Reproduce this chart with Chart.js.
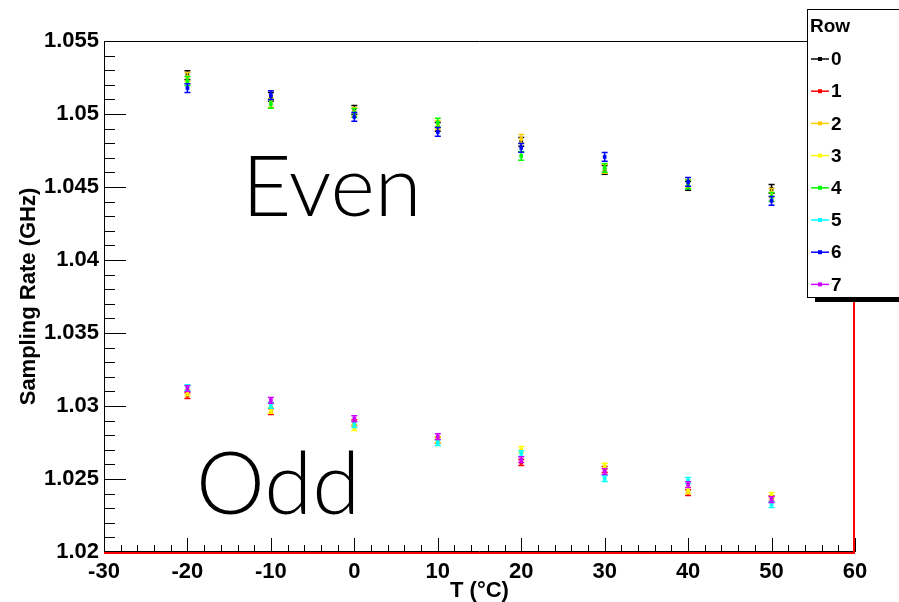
<!DOCTYPE html>
<html>
<head>
<meta charset="utf-8">
<script src="https://cdn.jsdelivr.net/npm/chart.js@4.4.1/dist/chart.umd.min.js"></script>
<style>
  body { margin: 0; background: #fff; }
</style>
</head>
<body>
<canvas id="canvas" width="899" height="602"></canvas>
<script>
// temperatures (x) and the sampling rate per row (y, GHz)
const temps = [-20, -10, 0, 10, 20, 30, 40, 50];
const rowNames = ['0', '1', '2', '3', '4', '5', '6', '7'];
const rowColors = ['#000000', '#ff0000', '#ffcc00', '#ffff00', '#00ff00', '#00ffff', '#0000ff', '#cc00ff'];
const row0 = [1.05267, 1.05117, 1.05028, 1.04912, 1.04809, 1.04617, 1.04507, 1.04487];
const row1 = [1.03071, 1.02961, 1.02886, 1.02766, 1.02613, 1.02565, 1.02407, 1.02366];
const row2 = [1.05254, 1.05076, 1.05014, 1.04925, 1.04829, 1.04624, 1.04521, 1.04460];
const row3 = [1.03091, 1.02970, 1.02852, 1.02770, 1.02702, 1.02588, 1.02421, 1.02387];
const row4 = [1.05226, 1.05069, 1.05007, 1.04941, 1.04713, 1.04631, 1.04518, 1.04433];
const row5 = [1.03125, 1.03004, 1.02872, 1.02749, 1.02674, 1.02503, 1.02490, 1.02325];
const row6 = [1.05178, 1.05130, 1.04980, 1.04877, 1.04768, 1.04706, 1.04535, 1.04405];
const row7 = [1.03119, 1.03039, 1.02913, 1.02790, 1.02633, 1.02551, 1.02462, 1.02359];
const rowErr = [0.0003, 0.0002, 0.0003, 0.0002, 0.0003, 0.0002, 0.0003, 0.0002];
const rows = [row0, row1, row2, row3, row4, row5, row6, row7];

const xMin = -30, xMax = 60, xStep = 10, xMinor = 2;
const yMin = 1.02, yMax = 1.055, yStep = 0.005, yMinor = 0.001;

Chart.defaults.font.family = "'Liberation Sans', Arial, sans-serif";
Chart.defaults.color = '#000';

let datasets = [];
for (let i = 0; i < rows.length; i++) {
    datasets.push({
        label: rowNames[i],
        data: temps.map((t, k) => ({ x: t, y: rows[i][k] })),
        backgroundColor: rowColors[i],
        borderColor: rowColors[i],
        pointStyle: 'rect',
        pointRadius: 2.6,
        pointBorderWidth: 0,
        showLine: false,
        order: rows.length - i
    });
}

// vertical error bars, drawn just before each row's markers
const errorBars = {
    id: 'errorBars',
    beforeDatasetDraw(chart, args) {
        const ctx = chart.ctx;
        const yScale = chart.scales.y;
        const i = args.index;
        const err = rowErr[i];
        ctx.save();
        ctx.strokeStyle = rowColors[i];
        ctx.lineWidth = 1.5;
        args.meta.data.forEach((pt, k) => {
            const v = rows[i][k];
            const y1 = yScale.getPixelForValue(v + err);
            const y2 = yScale.getPixelForValue(v - err);
            ctx.beginPath();
            ctx.moveTo(pt.x, y1); ctx.lineTo(pt.x, y2);
            ctx.moveTo(pt.x - 3, y1); ctx.lineTo(pt.x + 3, y1);
            ctx.moveTo(pt.x - 3, y2); ctx.lineTo(pt.x + 3, y2);
            ctx.stroke();
        });
        ctx.restore();
    }
};

// ROOT-like frame with inner tick marks
const frame = {
    id: 'frame',
    afterDraw(chart) {
        const ctx = chart.ctx;
        const a = chart.chartArea;
        const xs = chart.scales.x, ys = chart.scales.y;
        ctx.save();
        ctx.strokeStyle = '#000';
        ctx.lineWidth = 1;
        ctx.beginPath();
        ctx.moveTo(a.left + 0.5, a.bottom); ctx.lineTo(a.left + 0.5, a.top + 0.5);
        ctx.lineTo(a.right, a.top + 0.5);
        // x ticks
        for (let v = xMin; v <= xMax + 1e-9; v += xMinor) {
            const px = Math.round(xs.getPixelForValue(v)) + 0.5;
            const major = Math.abs(v % xStep) < 1e-9;
            ctx.moveTo(px, a.bottom);
            ctx.lineTo(px, a.bottom - (major ? 14 : 7));
        }
        // y ticks
        for (let n = 0; n <= Math.round((yMax - yMin) / yMinor); n++) {
            const v = yMin + n * yMinor;
            const py = Math.round(ys.getPixelForValue(v)) + 0.5;
            const major = n % Math.round(yStep / yMinor) === 0;
            ctx.moveTo(a.left, py);
            ctx.lineTo(a.left + (major ? 22 : 11), py);
        }
        ctx.stroke();
        ctx.beginPath();
        ctx.moveTo(a.left, a.bottom - 0.5); ctx.lineTo(a.right, a.bottom - 0.5);
        ctx.stroke();
        ctx.strokeStyle = '#ff0000';
        ctx.lineWidth = 2;
        ctx.beginPath();
        ctx.moveTo(a.left, a.bottom + 1); ctx.lineTo(a.right, a.bottom + 1);
        ctx.moveTo(a.right - 1, a.bottom + 1); ctx.lineTo(a.right - 1, 300);
        ctx.stroke();
        ctx.restore();
    }
};

// legend box in the top right corner, with shadow
const rowLegend = {
    id: 'rowLegend',
    afterDraw(chart) {
        const ctx = chart.ctx;
        ctx.save();
        ctx.fillStyle = '#000';
        ctx.fillRect(815, 298, 90, 4);
        ctx.fillStyle = '#fff';
        ctx.fillRect(807, 9, 100, 289);
        ctx.strokeStyle = '#000';
        ctx.lineWidth = 1;
        ctx.strokeRect(807.5, 9.5, 100, 288);
        ctx.fillStyle = '#000';
        ctx.font = "bold 19px 'Liberation Sans', Arial, sans-serif";
        ctx.textBaseline = 'middle';
        ctx.fillText('Row', 810, 27);
        ctx.font = "bold 19px 'Liberation Sans', Arial, sans-serif";
        for (let i = 0; i < rowNames.length; i++) {
            const y = 59 + i * 32.2;
            ctx.strokeStyle = rowColors[i];
            ctx.lineWidth = 1.5;
            ctx.beginPath();
            ctx.moveTo(811, y); ctx.lineTo(829, y);
            ctx.stroke();
            ctx.fillStyle = rowColors[i];
            ctx.fillRect(818, y - 2, 4, 4);
            ctx.fillStyle = '#000';
            ctx.fillText(rowNames[i], 831, y + 1);
        }
        ctx.restore();
    }
};

// the "Even" / "Odd" labels
const groupText = {
    id: 'groupText',
    afterDraw(chart) {
        const ctx = chart.ctx;
        ctx.save();
        ctx.fillStyle = '#000';
        ctx.font = "300 85px Lato, 'Liberation Sans', sans-serif";
        ctx.textBaseline = 'alphabetic';
        ctx.fillText('Even', 242, 216);
        ctx.font = "300 87px Lato, 'Liberation Sans', sans-serif";
        ctx.fillText('Odd', 196, 514);
        ctx.restore();
    }
};

let ctx = document.getElementById('canvas').getContext('2d');

let chart = new Chart(ctx, {
    type: 'scatter',
    data: { datasets: datasets },
    options: {
        responsive: false,
        animation: false,
        layout: { padding: { top: 41, right: 44, left: 0, bottom: 0 } },
        plugins: {
            legend: { display: false },
            tooltip: { enabled: false }
        },
        scales: {
            x: {
                type: 'linear',
                min: xMin,
                max: xMax,
                grid: { display: false, drawTicks: false },
                border: { display: false },
                ticks: {
                    stepSize: xStep,
                    padding: 7,
                    font: { size: 22, weight: 'bold' },
                    maxRotation: 0
                },
                title: {
                    display: true,
                    text: 'T (°C)',
                    font: { size: 22, weight: 'bold' },
                    padding: { top: 0, bottom: -2 }
                },
                afterFit: (scale) => { scale.height = 50; }
            },
            y: {
                type: 'linear',
                min: yMin,
                max: yMax,
                grid: { display: false, drawTicks: false },
                border: { display: false },
                ticks: {
                    stepSize: yStep,
                    padding: 5,
                    font: { size: 22, weight: 'bold' },
                    callback: (v) => String(+v.toFixed(3))
                },
                title: {
                    display: true,
                    text: 'Sampling Rate (GHz)',
                    font: { size: 22, weight: 'bold' },
                    padding: { top: 16, bottom: 0 }
                },
                afterFit: (scale) => { scale.width = 104; }
            }
        }
    },
    plugins: [errorBars, frame, rowLegend, groupText]
});
</script>
</body>
</html>
